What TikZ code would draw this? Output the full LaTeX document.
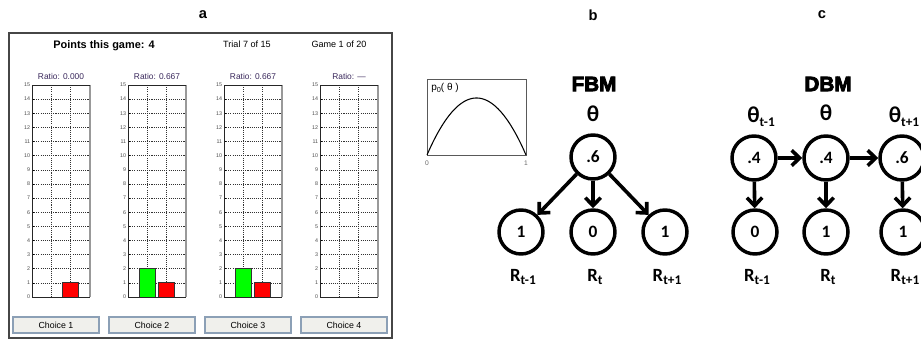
\documentclass[tikz,border=0pt]{standalone}
\usepackage{fontspec}
\setmainfont{Liberation Sans}
\newfontfamily\calfont{Carlito}
\newfontfamily\heavyfont[FakeBold=4]{Liberation Sans Bold}
\usetikzlibrary{arrows.meta}
\definecolor{ratiocol}{RGB}{58,40,92}
\definecolor{framegray}{RGB}{70,70,70}
\definecolor{btnborder}{RGB}{140,160,182}
\definecolor{btnfill}{RGB}{240,240,236}
\definecolor{barg}{RGB}{0,255,0}
\definecolor{barr}{RGB}{255,0,0}
\newcommand{\mysub}[2]{\raisebox{-0.35ex}{\fontsize{#1}{#1}\selectfont #2}}
\begin{document}
\begin{tikzpicture}[x=0.75pt,y=-0.75pt,
  letter/.style={font=\bfseries\fontsize{11}{12}\selectfont},
  hdr/.style={font=\fontsize{6.8}{8}\selectfont},
  ratio/.style={font=\fontsize{6.3}{7}\selectfont, text=ratiocol},
  ticklab/.style={font=\fontsize{4}{4.5}\selectfont, text=black!70, anchor=east, inner sep=0.5pt},
  griddot/.style={line width=0.4pt, black!80, dash pattern=on 0.8pt off 0.8pt},
  bar/.style={draw=black!80, line width=0.6pt},
  button/.style={draw=btnborder, fill=btnfill, line width=0.8pt, minimum width=64.5pt, minimum height=12pt, inner sep=0pt, font=\fontsize{6.6}{7}\selectfont},
  gnode/.style={circle, draw, line width=2.6pt, minimum size=33pt, inner sep=0pt, font=\calfont\bfseries\fontsize{13}{14}\selectfont},
  glabel/.style={font=\calfont\bfseries\fontsize{14}{15}\selectfont, inner sep=0pt},
  thlabel/.style={font=\calfont\bfseries\fontsize{17}{18}\selectfont, inner sep=0pt},
  model/.style={font=\heavyfont\fontsize{15.5}{17}\selectfont, inner sep=0pt},
  arr/.style={line width=2.7pt, -{Straight Barb[length=6pt,width=11.5pt]}}
]
\useasboundingbox (0,0) rectangle (921,341);
\clip (0,0) rectangle (921,341);

% ---------------- panel a ----------------
\node[letter] (la) at (203,15) {a};
\draw[framegray, line width=1.5pt, fill=white] (9,33) rectangle (392,338);
\node[font=\bfseries\fontsize{8.2}{10}\selectfont] (pts) at (104,46) {Points this game: 4};
\node[hdr] (trial) at (247,44) {Trial 7 of 15};
\node[hdr] (game) at (339,44) {Game 1 of 20};

\foreach \i/\rat in {0/0.000,1/0.667,2/0.667,3/---}{
  \pgfmathsetmacro{\L}{32+96*\i}
  \pgfmathsetmacro{\R}{\L+58}
  \pgfmathsetmacro{\C}{\L+29}
  \node[ratio] (ratio\i) at (\C,77) {Ratio: \rat};
  \foreach \k in {1,...,14}{
    \draw[griddot] (\L,{297-14.1333*\k}) -- (\R,{297-14.1333*\k});
  }
  \draw[griddot] ({\L+58/3},85) -- ({\L+58/3},297);
  \draw[griddot] ({\L+116/3},85) -- ({\L+116/3},297);
  \foreach \k in {0,...,15}{
    \draw[black, line width=0.4pt] (\L,{297-14.1333*\k}) -- ({\L+2},{297-14.1333*\k});
    \node[ticklab] (tick\i-\k) at ({\L-1},{297-14.1333*\k}) {\k};
  }
}
% bars
\fill[barr] (62.7,282.87) rectangle (78.7,297);
\draw[bar] (62.7,282.87) rectangle (78.7,297);
\foreach \L in {128,224}{
  \fill[barg] ({\L+58/3-8},268.73) rectangle ({\L+58/3+8},297);
  \draw[bar] ({\L+58/3-8},268.73) rectangle ({\L+58/3+8},297);
  \fill[barr] ({\L+116/3-8},282.87) rectangle ({\L+116/3+8},297);
  \draw[bar] ({\L+116/3-8},282.87) rectangle ({\L+116/3+8},297);
}
% chart frames
\foreach \i in {0,...,3}{
  \pgfmathsetmacro{\L}{32+96*\i}
  \pgfmathsetmacro{\R}{\L+58}
  \draw[black!40, line width=1.5pt] (\R,85) -- (\R,297);
  \draw[black!85, line width=0.7pt] (\R,85) -- (\L,85) -- (\L,297) -- (\R,297);
}
% buttons
\foreach \i in {1,...,4}{
  \node[button] (btn\i) at ({56+96*(\i-1)},325) {Choice \i};
}

% ---------------- panel b ----------------
\node[letter] (lb) at (593,15) {b};
\draw[black!65, line width=0.6pt] (427,79) rectangle (526,155);
\draw[black, line width=0.8pt, domain=0:1, samples=80] plot ({427+99*\x}, {155-57*4*\x*(1-\x)});
\node[font=\fontsize{7.5}{8}\selectfont, anchor=west, inner sep=0pt] (plab) at (431,88) {p\mysub{5.5}{0}( θ )};
\node[font=\fontsize{5}{6}\selectfont, text=black!60] (px0) at (427,163) {0};
\node[font=\fontsize{5}{6}\selectfont, text=black!60] (px1) at (526,163) {1};

\node[model] (fbm) at (594,84) {FBM};
\node[thlabel] (thb) at (593,114) {θ};
\node[gnode] (ft) at (593,157) {.6};
\node[gnode] (f1) at (521,232) {1};
\node[gnode] (f2) at (593,232) {0};
\node[gnode] (f3) at (665,232) {1};
\node[glabel] (rf1) at (523,277) {R\mysub{10}{t-1}};
\node[glabel] (rf2) at (595,277) {R\mysub{10}{t}};
\node[glabel] (rf3) at (667,277) {R\mysub{10}{t+1}};
\draw[arr] (ft) -- (f1);
\draw[arr] (ft) -- (f2);
\draw[arr] (ft) -- (f3);

% ---------------- panel c ----------------
\node[letter] (lc) at (822,15) {c};
\node[model] (dbm) at (828,84) {DBM};
\node[thlabel] (th1) at (761,117) {θ\mysub{10}{t-1}};
\node[thlabel] (th2) at (826,113) {θ};
\node[thlabel] (th3) at (904,117) {θ\mysub{10}{t+1}};
\node[gnode] (d1) at (754,158) {.4};
\node[gnode] (d2) at (826,158) {.4};
\node[gnode] (d3) at (902,158) {.6};
\node[gnode] (e1) at (755,232) {0};
\node[gnode] (e2) at (826,232) {1};
\node[gnode] (e3) at (903,232) {1};
\node[glabel] (rd1) at (757,277) {R\mysub{10}{t-1}};
\node[glabel] (rd2) at (828,277) {R\mysub{10}{t}};
\node[glabel] (rd3) at (905,277) {R\mysub{10}{t+1}};
\draw[arr] (d1) -- (d2);
\draw[arr] (d2) -- (d3);
\draw[arr] (d1) -- (e1);
\draw[arr] (d2) -- (e2);
\draw[arr] (d3) -- (e3);
\end{tikzpicture}
\end{document}
